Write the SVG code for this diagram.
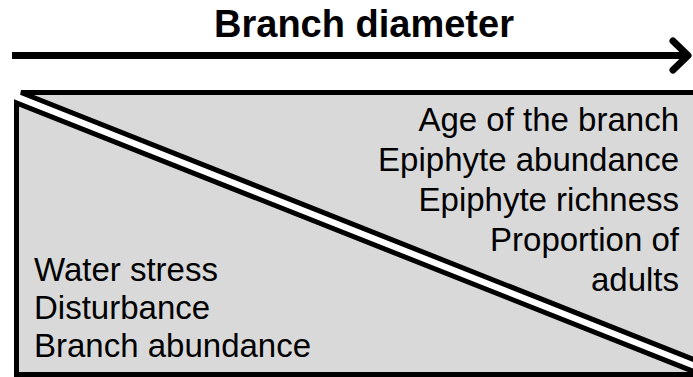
<svg xmlns="http://www.w3.org/2000/svg" width="693" height="377" viewBox="0 0 693 377">
<style>
.t{font-family:"Liberation Sans",Arial,sans-serif;font-size:33px;fill:#000}
.r{text-anchor:end}
.tri{fill:#d9d9d9;stroke:#000;stroke-width:5;stroke-linejoin:miter}
</style>
<rect width="693" height="377" fill="#fff"/>
<g id="title"><text x="364" y="37" class="t" style="font-weight:bold;font-size:38px" text-anchor="middle">Branch diameter</text></g>
<g id="connectors">
<line x1="12" y1="55.5" x2="688" y2="55.5" stroke="#000" stroke-width="7"/>
<polyline points="673,41 688,55.5 673,70" fill="none" stroke="#000" stroke-width="7" stroke-linecap="round" stroke-linejoin="round"/>
</g>
<g id="upper">
<polygon class="tri" points="21,92.5 700,92.5 700,362"/>
<text class="t r" x="679" y="131">Age of the branch</text>
<text class="t r" x="679" y="171">Epiphyte abundance</text>
<text class="t r" x="679" y="211">Epiphyte richness</text>
<text class="t r" x="679" y="251">Proportion of</text>
<text class="t r" x="679" y="291">adults</text>
</g>
<g id="lower">
<polygon class="tri" points="16.5,103 16.5,374.5 700,374.5 700,374"/>
<text class="t" x="34" y="281">Water stress</text>
<text class="t" x="34" y="319">Disturbance</text>
<text class="t" x="34" y="357">Branch abundance</text>
</g>
</svg>
